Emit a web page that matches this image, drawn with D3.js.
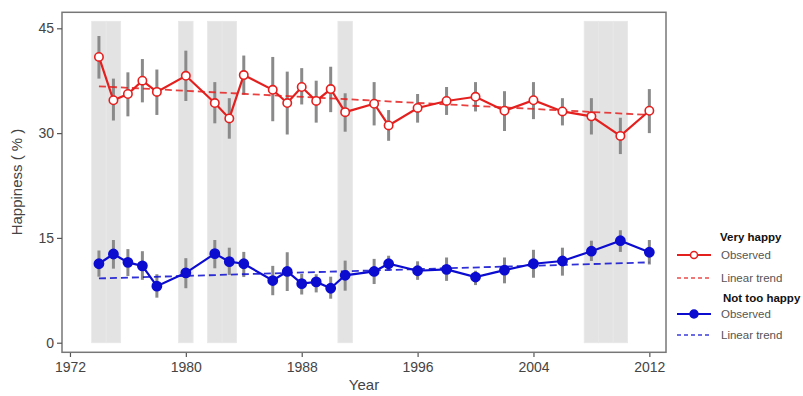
<!DOCTYPE html>
<html><head><meta charset="utf-8">
<script src="https://cdn.jsdelivr.net/npm/d3@7/dist/d3.min.js"></script>
<style>body{margin:0;background:#fff;} text{font-family:"Liberation Sans",Arial,sans-serif;}</style>
</head><body><svg id="c" width="803" height="396"></svg>
<script>
const years = [1974,1975,1976,1977,1978,1980,1982,1983,1984,1986,1987,1988,1989,1990,1991,1993,1994,1996,1998,2000,2002,2004,2006,2008,2010,2012];
const veryHappy = [40.9,34.7,35.6,37.5,35.9,38.2,34.3,32.1,38.3,36.2,34.3,36.6,34.6,36.3,33.0,34.2,31.1,33.6,34.6,35.2,33.2,34.7,33.1,32.4,29.6,33.2];
const veryHappyLo = [37.8,31.8,32.4,34.4,32.6,34.6,31.4,29.2,35.5,31.7,29.8,34.1,31.5,33.0,30.2,31.1,28.9,31.5,32.6,33.1,30.3,32.0,31.1,29.8,27.0,30.0];
const veryHappyHi = [43.9,37.8,38.7,40.6,39.1,41.8,37.3,35.0,41.1,40.9,38.8,39.3,37.5,39.5,35.7,37.3,33.3,35.6,36.6,37.3,36.0,37.3,35.0,35.0,32.2,36.3];
const notTooHappy = [11.3,12.7,11.5,11.0,8.1,10.0,12.75,11.6,11.3,8.9,10.2,8.45,8.7,7.8,9.65,10.2,11.3,10.3,10.5,9.4,10.4,11.3,11.7,13.1,14.6,12.95];
const notTooHappyLo = [9.45,10.6,9.55,9.0,6.45,7.8,10.65,9.7,9.4,6.8,7.4,6.9,7.2,6.3,7.45,8.4,10.3,9.0,8.85,8.25,8.5,9.3,9.6,11.7,13.0,11.2];
const notTooHappyHi = [13.2,14.7,13.4,13.1,9.8,12.1,14.7,13.6,13.0,11.0,12.95,9.85,9.8,9.45,11.75,12.0,12.45,11.65,12.2,10.3,12.2,13.3,13.6,14.6,16.1,14.7];
const veryHappyTrend = [[1974,36.7],[2012,32.6]];
const notTooHappyTrend = [[1974,9.2],[2012,11.5]];
const recessionYears = [1974,1975,1980,1982,1983,1991,2008,2009,2010];
const xTicks = [1972,1980,1988,1996,2004,2012];
const yTicks = [0,15,30,45];

const svg = d3.select("#c");
const x = d3.scaleLinear().domain([1971.45, 2013.15]).range([62, 666]);
const y = d3.scaleLinear().domain([-1.37, 47.29]).range([352.3, 12.3]);
const red = "#e4201f", blue = "#0c0cd0", gray = "#8a8a8a";

// recession bands
svg.append("g").selectAll("rect").data(recessionYears).join("rect")
  .attr("x", d => x(d - 0.5)).attr("width", x(1) - x(0))
  .attr("y", y(46)).attr("height", y(0) - y(46))
  .attr("fill", "#e3e3e3").attr("stroke", "#e8e8e8").attr("stroke-width", 0.8);

function series(vals, lo, hi, trend, color, filled) {
  const g = svg.append("g");
  g.selectAll("line.err").data(years).join("line").attr("class","err")
    .attr("x1", d => x(d)).attr("x2", d => x(d))
    .attr("y1", (d,i) => y(lo[i])).attr("y2", (d,i) => y(hi[i]))
    .attr("stroke", gray).attr("stroke-width", 3);
  g.append("path").datum(trend)
    .attr("d", d3.line().x(d => x(d[0])).y(d => y(d[1])))
    .attr("fill", "none").attr("stroke", color).attr("stroke-width", 1.8)
    .attr("stroke-dasharray", "7,4").attr("opacity", 0.85);
  g.append("path").datum(years.map((d,i) => [d, vals[i]]))
    .attr("d", d3.line().x(d => x(d[0])).y(d => y(d[1])))
    .attr("fill", "none").attr("stroke", color).attr("stroke-width", 2.2);
  g.selectAll("circle").data(years).join("circle")
    .attr("cx", d => x(d)).attr("cy", (d,i) => y(vals[i]))
    .attr("r", filled ? 4.6 : 4.2)
    .attr("fill", filled ? color : "#fff").attr("stroke", color).attr("stroke-width", 1.6);
}
series(veryHappy, veryHappyLo, veryHappyHi, veryHappyTrend, red, false);
series(notTooHappy, notTooHappyLo, notTooHappyHi, notTooHappyTrend, blue, true);

// frame
svg.append("rect").attr("x", 62).attr("y", 12.3).attr("width", 604).attr("height", 340)
  .attr("fill", "none").attr("stroke", "#777").attr("stroke-width", 1.5);

// axes
const xAxis = svg.append("g").attr("transform", "translate(0,353)")
  .call(d3.axisBottom(x).tickValues(xTicks).tickFormat(d3.format("d")).tickSize(4).tickPadding(5));
const yAxis = svg.append("g").attr("transform", "translate(62,0)")
  .call(d3.axisLeft(y).tickValues(yTicks).tickSize(5).tickPadding(3));
[xAxis, yAxis].forEach(a => {
  a.select(".domain").remove();
  a.selectAll(".tick line").attr("stroke", "#555").attr("stroke-width", 1.2);
  a.selectAll(".tick text").attr("fill", "#444").style("font-size", "14px").style("font-family", "'Liberation Sans',Arial,sans-serif");
});

svg.append("text").attr("x", 364).attr("y", 390).attr("text-anchor", "middle")
  .attr("fill", "#444").style("font-size", "15px").text("Year");
svg.append("text").attr("transform", "translate(22,182) rotate(-90)").attr("text-anchor", "middle")
  .attr("fill", "#444").style("font-size", "15px").text("Happiness ( % )");

// legend
const lg = svg.append("g");
const items = [
  {title: "Very happy", tx: 720, ty: 241, color: red, filled: false, y1: 255, y2: 278},
  {title: "Not too happy", tx: 723, ty: 302, color: blue, filled: true, y1: 314, y2: 335}
];
items.forEach(it => {
  lg.append("text").attr("x", it.tx).attr("y", it.ty).attr("fill", "#111")
    .style("font-size", "11.5px").style("font-weight", "bold").text(it.title);
  lg.append("line").attr("x1", 677).attr("x2", 711).attr("y1", it.y1).attr("y2", it.y1)
    .attr("stroke", it.color).attr("stroke-width", 2);
  lg.append("circle").attr("cx", 694).attr("cy", it.y1).attr("r", it.filled ? 4 : 3.5)
    .attr("fill", it.filled ? it.color : "#fff").attr("stroke", it.color).attr("stroke-width", 1.5);
  lg.append("text").attr("x", 721).attr("y", it.y1 + 4).attr("fill", "#555")
    .style("font-size", "11.5px").text("Observed");
  lg.append("line").attr("x1", 677).attr("x2", 711).attr("y1", it.y2).attr("y2", it.y2)
    .attr("stroke", it.color).attr("stroke-width", 1.5).attr("stroke-dasharray", "4,3").attr("opacity", 0.8);
  lg.append("text").attr("x", 721).attr("y", it.y2 + 4).attr("fill", "#555")
    .style("font-size", "11.5px").text("Linear trend");
});
</script></body></html>
